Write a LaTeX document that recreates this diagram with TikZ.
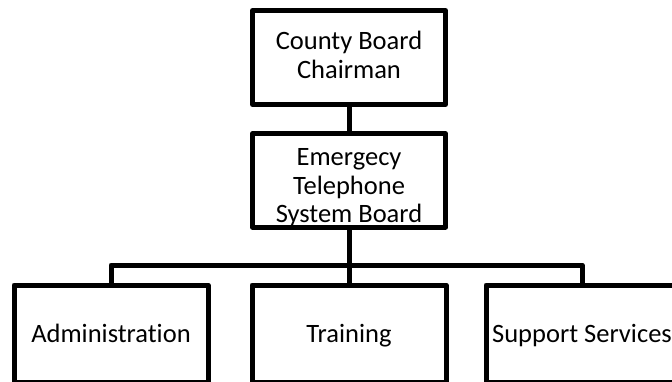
\documentclass[tikz,border=0pt]{standalone}
\usepackage{fontspec}
\setmainfont{Carlito}[RawFeature={-liga}]
\begin{document}
\begin{tikzpicture}[x=1pt,y=-1pt,
  box/.style={draw=black, line width=5pt, line join=round, rectangle, align=center,
    inner sep=0pt, font=\fontsize{26.5}{28.5}\selectfont},
  single/.style={text height=17pt, text depth=0pt},
  conn/.style={draw=black, line width=5pt, line join=round}]
\useasboundingbox (0,0) rectangle (672,381);
\node[box, minimum width=193pt, minimum height=94pt] (top) at (349,57.5) {County Board\\Chairman\rule[-5pt]{0pt}{0pt}};
\node[box, minimum width=193pt, minimum height=90pt] (mid) at (349,180.5) {\rule{0pt}{32pt}Emergecy\\Telephone\\System Board};
\node[box, single, minimum width=194pt, minimum height=97pt] (b1) at (111,333.5) {Administration};
\node[box, single, minimum width=194pt, minimum height=97pt] (b2) at (349,333.5) {Training};
\node[box, single, minimum width=192pt, minimum height=97pt] (b3) at (582,333.5) {Support Services};
\coordinate (j) at (349,265);
\draw[conn] (top.south) -- (mid.north);
\draw[conn] (mid.south) -- (j);
\draw[conn] (b1.north) |- (j) -| (b3.north);
\draw[conn] (j) -- (b2.north);
\end{tikzpicture}
\end{document}
